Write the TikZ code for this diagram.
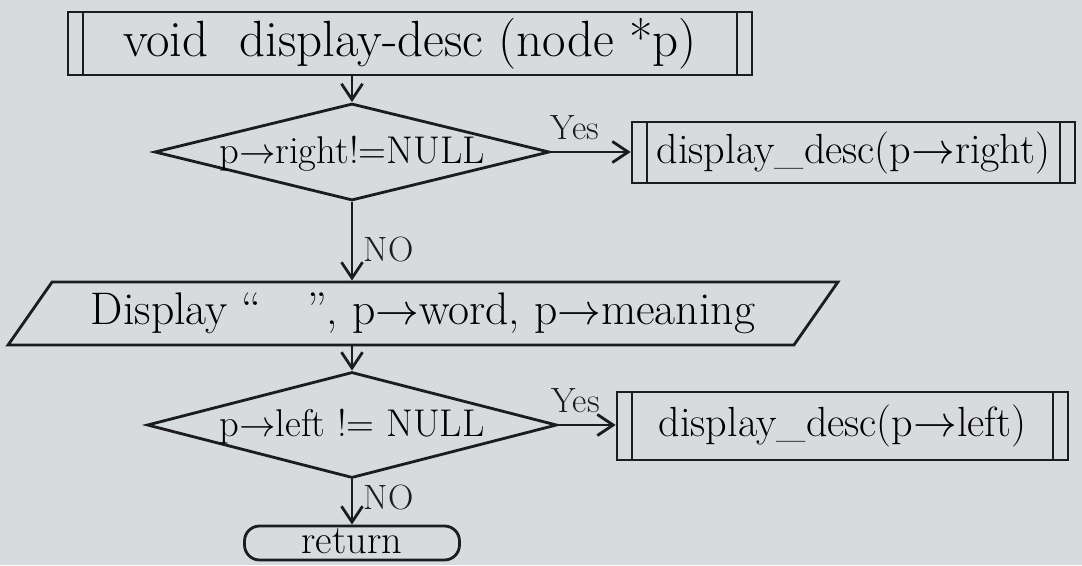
\documentclass[tikz,border=0pt]{standalone}
\usetikzlibrary{positioning}
\usetikzlibrary{shapes.geometric}
\usetikzlibrary{arrows.meta}
\definecolor{paper}{RGB}{216,219,222}
\definecolor{ink}{RGB}{28,28,30}
\tikzset{
	flowline/.style={
		draw=ink,
		line width=1.6pt
	},
	procbox/.style={
		flowline,
		rectangle,
		inner sep=0pt,
		font=\fontsize{24}{28}\selectfont,
		path picture={
			\draw[ink,line width=1.6pt]
				([xshift=#1]path picture bounding box.north west) --
				([xshift=#1]path picture bounding box.south west)
				([xshift=-#1]path picture bounding box.north east) --
				([xshift=-#1]path picture bounding box.south east);
		}
	},
	procbox/.default={0.3cm},
	decision/.style={
		flowline,
		diamond,
		aspect=4,
		inner sep=0pt,
		text height=0.45cm,
		text depth=0pt,
		font=\fontsize{22}{26}\selectfont
	},
	iobox/.style={
		flowline,
		trapezium,
		trapezium left angle=43,
		trapezium right angle=137,
		trapezium stretches body,
		inner sep=0pt,
		font=\fontsize{26}{30}\selectfont
	},
	terminal/.style={
		flowline,
		rectangle,
		rounded corners=0.3cm,
		inner sep=0pt,
		text height=0.4cm,
		text depth=0pt,
		font=\fontsize{23}{27}\selectfont
	},
	flow/.style={
		flowline,
		-{Straight Barb[length=9pt,width=12pt]}
	},
	answer/.style={
		font=\fontsize{20}{24}\selectfont,
		text=ink,
		inner sep=6pt
	}
}

\begin{document}
\begin{tikzpicture}[x=0.02cm,y=-0.02cm]
	\fill[paper] (0,0) rectangle (1082,565);
	\useasboundingbox (0,0) rectangle (1082,565);

	\node[procbox, minimum width=13.68cm, minimum height=1.26cm, font=\fontsize{29}{33}\selectfont] (func) at (410,43.5)
		{void \ display-desc (node *p)};
	\node[decision, minimum width=7.9cm, minimum height=1.94cm] (isright) at (352,152)
		{p$\rightarrow$right!=NULL};
	\node[procbox, minimum width=8.86cm, minimum height=1.22cm] (callright) at (853.5,152.5)
		{display\_desc(p$\rightarrow$right)};
	\node[iobox, minimum width=16.6cm, minimum height=1.26cm] (show) at (423,313.5)
		{Display ``\quad'', p$\rightarrow$word, p$\rightarrow$meaning};
	\node[decision, minimum width=8.2cm, minimum height=2.12cm] (isleft) at (352,425)
		{p$\rightarrow$left != NULL};
	\node[procbox, minimum width=9.02cm, minimum height=1.36cm] (callleft) at (842.5,426)
		{display\_desc(p$\rightarrow$left)};
	\node[terminal, minimum width=4.3cm, minimum height=0.68cm] (ret) at (352,543)
		{return};

	\draw[flow] (isright.north |- func.south) -- (isright.north);
	\draw[flow] (isright.east) -- node[answer, above, pos=0.3] {Yes} (isright.east -| callright.west);
	\draw[flow] (isright.south) -- node[answer, right, pos=0.6] {NO} (isright.south |- show.north);
	\draw[flow] (isleft.north |- show.south) -- (isleft.north);
	\draw[flow] (isleft.east) -- node[answer, above, pos=0.3] {Yes} (isleft.east -| callleft.west);
	\draw[flow] (isleft.south) -- node[answer, right, pos=0.4] {NO} (ret.north);
\end{tikzpicture}
\end{document}
